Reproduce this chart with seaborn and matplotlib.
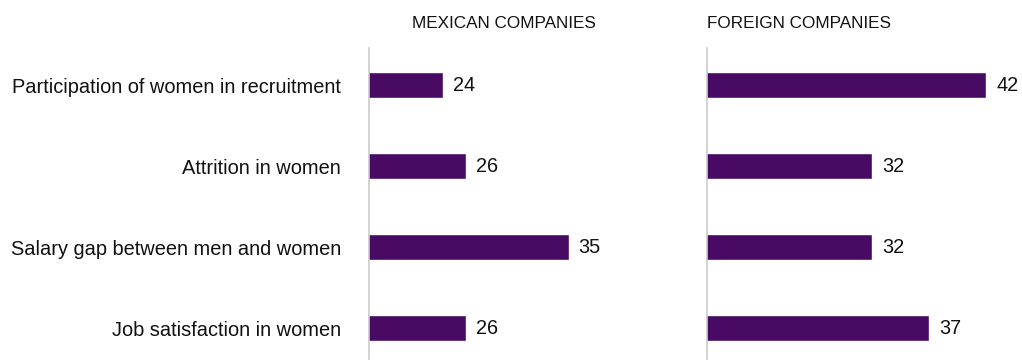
import pandas as pd
import seaborn as sns
from matplotlib import pyplot as plt

categories = [
    "Participation of women in recruitment",
    "Attrition in women",
    "Salary gap between men and women",
    "Job satisfaction in women",
]
mexican = [24, 26, 35, 26]
foreign = [42, 32, 32, 37]
panel_titles = ["MEXICAN COMPANIES", "FOREIGN COMPANIES"]

BAR_COLOR = "#480a62"

sns.set_theme(style="white")
plt.rcParams["font.family"] = ["Liberation Sans", "DejaVu Sans"]

fig = plt.figure(figsize=(10.22, 3.6), dpi=100)
ax_left = fig.add_axes([369 / 1022, 0.0, 308 / 1022, 1 - 48 / 360])
ax_right = fig.add_axes([707 / 1022, 0.0, 308 / 1022, 1 - 48 / 360])

for ax, values, title, title_x in [
    (ax_left, mexican, panel_titles[0], 412 / 1022),
    (ax_right, foreign, panel_titles[1], 707 / 1022),
]:
    df = pd.DataFrame({"category": categories, "value": values})
    sns.barplot(data=df, x="value", y="category", orient="h", color=BAR_COLOR,
                width=0.31, saturation=1, ax=ax)
    ax.set_xlim(17.5, 44.5)
    ax.set_ylim(3.395, -0.457)
    for i, v in enumerate(values):
        ax.annotate(str(v), xy=(v, i), xytext=(7, 0), textcoords="offset points",
                    va="center", ha="left", fontsize=14.3, color="#111111",
                    annotation_clip=False)
    ax.set_xlabel("")
    ax.set_ylabel("")
    ax.set_xticks([])
    for side in ["top", "right", "bottom"]:
        ax.spines[side].set_visible(False)
    ax.spines["left"].set_color("#cccccc")
    ax.spines["left"].set_linewidth(1.2)
    fig.text(title_x, 1 - 23 / 360, title, ha="left", va="center",
             fontsize=12.3, color="#111111")

ax_left.tick_params(axis="y", length=0, pad=20, labelsize=14.4, labelcolor="#111111")
ax_right.set_yticks([])

fig.savefig("out.png", dpi=100)
